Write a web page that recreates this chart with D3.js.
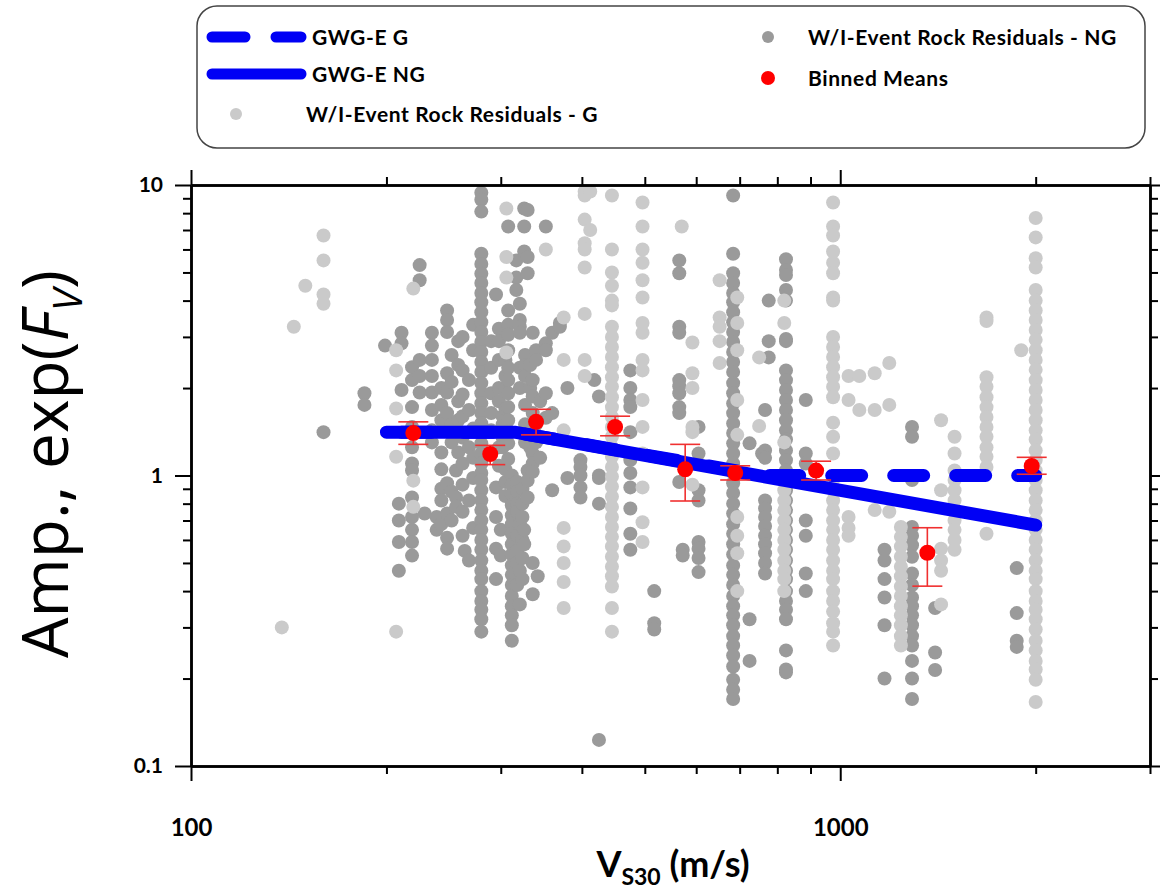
<!DOCTYPE html>
<html>
<head>
<meta charset="utf-8">
<script src="https://cdn.jsdelivr.net/npm/d3@7"></script>
<style>
  body { margin: 0; background: #fff; }
  svg text { font-family: Lato, "Open Sans", sans-serif; }
</style>
</head>
<body>
<svg width="1160" height="891"></svg>
<script>
// ---- data ----
// within-event residuals, non-glaciated sites: [Vs30, amplitudes]
const ngCols = [
  [160, [1.41]],
  [185, [1.92, 1.75]],
  [199, [2.8]],
  [211, [3.1, 2.85, 1.97]],
  [209, [0.80, 0.70, 0.59, 0.47]],
  [219, [2.36, 2.13, 1.72, 1.47, 1.40, 1.25, 1.10, 1.04, 0.84, 0.72, 0.65, 0.59, 0.53]],
  [225, [5.3, 4.7, 2.5, 2.2, 1.93]],
  [229, [0.74]],
  [235, [3.1, 2.8, 2.5, 2.2, 1.93, 1.68, 1.43, 1.30]],
  [239, [0.72, 0.65]],
  [243, [2.0, 1.75, 1.55, 1.2, 1.05, 0.9, 0.82, 0.68]],
  [248, [3.7, 3.43, 3.12, 2.25, 1.93, 1.64, 1.43, 0.94, 0.74, 0.61, 0.56]],
  [252, [2.6, 2.1, 1.5, 1.3, 0.88, 0.7]],
  [256, [1.04, 0.84, 0.78]],
  [258, [2.9, 2.4, 1.8, 1.55, 1.2]],
  [262, [3.0, 2.3, 1.9, 1.6, 1.35, 1.1, 0.93, 0.75, 0.62]],
  [264, [0.55]],
  [268, [2.13, 1.68, 1.25, 0.82, 0.51]],
  [272, [3.3, 2.7, 1.45, 1.15, 0.98, 0.66]],
  [280, [9.4, 8.9, 8.1, 5.8, 5.35, 4.95, 4.6, 4.25, 3.95, 3.65, 3.37, 3.12, 2.88, 2.66, 2.46, 2.27,
         2.08, 1.92, 1.77, 1.64, 1.51, 1.40, 1.29, 1.19, 1.10, 1.02, 0.965, 0.89, 0.82, 0.76, 0.70,
         0.65, 0.60, 0.555, 0.51, 0.47, 0.44, 0.40, 0.37, 0.345, 0.32, 0.29]],
  [290, [2.9, 2.35, 1.92, 1.64, 1.43, 1.19]],
  [295, [4.2, 0.91, 0.72, 0.56, 0.44]],
  [298, [3.2, 2.9, 2.5, 2.0, 1.8, 1.25, 1.08]],
  [300, [0.65, 0.53]],
  [302, [1.5, 1.35, 1.25, 1.6]],
  [305, [2.5, 2.2, 1.95, 1.7, 1.05, 0.95, 0.85]],
  [308, [7.2, 3.7, 3.3, 3.05, 2.7, 2.35, 2.13, 1.92, 1.72, 1.55, 1.42, 1.29, 1.14]],
  [312, [1.0, 0.93, 0.86, 0.79, 0.73, 0.68, 0.63, 0.58, 0.535, 0.49, 0.455, 0.42, 0.385, 0.355, 0.33, 0.305, 0.27]],
  [317, [5.5, 4.8, 4.35]],
  [318, [0.95, 0.88, 0.8, 0.75, 0.62, 0.55, 0.5, 0.42]],
  [321, [3.43, 3.25, 3.1, 3.9, 2.35, 2.0, 0.68, 0.47, 0.36]],
  [324, [0.9, 0.8, 0.72, 0.6, 0.52, 0.44]],
  [326, [8.3, 7.2, 5.9, 0.65, 0.58]],
  [327, [2.6, 2.4, 2.2, 1.75, 1.5, 1.3]],
  [330, [8.2, 5.65, 4.97, 1.04, 0.96, 0.84]],
  [333, [2.4, 2.0, 1.45, 1.25]],
  [336, [3.1, 2.13, 1.87, 1.64, 1.19, 1.10, 1.03, 0.50, 0.39]],
  [340, [2.7, 2.5, 1.5, 1.3]],
  [342, [0.45]],
  [345, [1.8, 1.35, 1.15]],
  [352, [7.2, 2.85, 2.7, 1.92, 1.58]],
  [360, [3.1, 1.64, 0.89]],
  [370, [3.35, 3.25]],
  [380, [2.0, 0.98]],
  [398, [1.13, 1.07, 1.0, 0.91, 0.84]],
  [418, [2.13]],
  [425, [1.87, 1.0, 0.98, 0.80, 0.123]],
  [475, [2.3, 2.0, 1.82, 1.72, 1.41, 1.13, 1.02, 0.91, 0.77, 0.63, 0.555]],
  [517, [0.40, 0.31, 0.295]],
  [565, [5.5, 4.97, 3.25, 3.1, 2.13, 2.03, 1.92, 1.72, 1.64, 0.95]],
  [572, [0.555, 0.53]],
  [605, [1.47, 1.19, 0.89, 0.82, 0.59, 0.56, 0.52, 0.465]],
  [684, [9.2, 5.8, 4.97, 4.6, 4.25, 3.95, 3.65, 3.37, 3.12, 2.88, 2.66, 2.46, 2.27, 2.08, 1.92, 1.77,
         1.64, 1.51, 1.40, 1.29, 1.19, 1.10, 1.02, 0.94, 0.87, 0.80, 0.74, 0.68, 0.63, 0.58, 0.535,
         0.49, 0.455, 0.42, 0.385, 0.355, 0.33, 0.305, 0.28, 0.26, 0.24, 0.22, 0.198, 0.183, 0.17]],
  [725, [1.29, 0.32, 0.23]],
  [758, [1.19]],
  [766, [1.68, 1.22, 1.15, 0.82, 0.77, 0.72, 0.67, 0.62, 0.58, 0.54, 0.50, 0.46]],
  [776, [4.0, 2.55, 2.9]],
  [825, [5.55, 5.1, 4.9, 4.35, 4.0, 2.95, 2.9, 2.3, 2.13, 1.97, 1.82, 1.68, 1.55, 1.43, 1.33, 1.22,
         1.13, 1.04, 0.965, 0.89, 0.82, 0.76, 0.70, 0.65, 0.60, 0.555, 0.51, 0.47, 0.44, 0.40, 0.37,
         0.345, 0.32, 0.25, 0.215, 0.21]],
  [885, [1.82, 1.19, 1.10, 0.70, 0.62, 0.46, 0.40]],
  [1170, [0.555, 0.51, 0.44, 0.38, 0.305, 0.20]],
  [1290, [1.47, 1.36, 0.965, 0.665, 0.62, 0.575, 0.525, 0.46, 0.42, 0.38, 0.355, 0.33, 0.305, 0.28,
          0.26, 0.23, 0.20, 0.17]],
  [1400, [0.35, 0.246, 0.214]],
  [1870, [0.48, 0.336, 0.27, 0.257]]
];

// within-event residuals, glaciated sites
const gCols = [
  [138, [0.30]],
  [144, [3.25]],
  [150, [4.5]],
  [160, [6.7, 5.5, 4.2, 3.9]],
  [207, [2.7, 2.3, 1.7, 1.16, 0.29]],
  [220, [4.4, 0.96, 0.78]],
  [306, [8.3, 5.65, 4.8, 2.65]],
  [352, [6.0]],
  [375, [3.5, 2.5, 1.43, 0.66, 0.57, 0.50, 0.43, 0.35]],
  [404, [9.5, 9.2, 7.6, 6.3, 6.0, 5.2, 3.6, 2.5, 2.2]],
  [412, [9.5, 7.0]],
  [445, [9.2, 6.0, 5.0, 4.5, 4.0, 3.85, 3.25, 3.0, 2.77, 2.56, 2.36, 2.18, 2.02, 1.86, 1.72, 1.59,
         1.47, 1.36, 1.25, 1.16, 1.07, 0.99, 0.915, 0.845, 0.78, 0.72, 0.665, 0.615, 0.57, 0.525,
         0.485, 0.45, 0.415, 0.35, 0.29]],
  [496, [8.7, 7.2, 6.0, 5.4, 4.7, 4.1, 3.35, 3.1, 2.5, 2.3, 1.82, 1.47, 1.19, 0.91, 0.69, 0.59]],
  [570, [7.2]],
  [592, [2.87, 2.25, 2.0, 1.47, 1.41, 0.93]],
  [652, [4.7, 3.5, 3.25, 2.9, 2.44]],
  [694, [4.1, 3.35, 2.7, 1.82, 1.38, 0.72, 0.62, 0.54, 0.40]],
  [750, [2.55, 1.48]],
  [820, [4.0, 3.35, 1.3, 0.89, 0.82, 0.76, 0.70, 0.65, 0.60, 0.555, 0.51, 0.47, 0.44, 0.40]],
  [975, [8.7, 7.2, 6.7, 5.9, 5.4, 4.97, 4.1, 4.0, 3.0, 2.77, 2.56, 2.36, 2.18, 2.02, 1.86, 1.52,
         1.36, 1.19, 0.965, 0.89, 0.82, 0.76, 0.70, 0.65, 0.60, 0.555, 0.51, 0.47, 0.44, 0.40, 0.37,
         0.34, 0.31, 0.29, 0.26]],
  [1030, [2.2, 1.82, 0.72, 0.66, 0.62]],
  [1070, [2.2, 1.68]],
  [1130, [2.25, 1.68, 0.76]],
  [1190, [2.44, 1.75, 0.75]],
  [1240, [0.665, 0.615, 0.57, 0.525, 0.485, 0.45, 0.415, 0.385, 0.355, 0.33, 0.305, 0.28, 0.26]],
  [1430, [1.55, 0.89, 0.56, 0.51, 0.47, 0.36]],
  [1500, [1.36, 1.19, 1.04, 0.965, 0.89, 0.82, 0.76, 0.70, 0.65, 0.60, 0.555]],
  [1680, [3.5, 3.4, 2.18, 2.02, 1.86, 1.72, 1.59, 1.47, 1.36, 1.25, 1.16, 1.07, 0.63]],
  [1900, [2.7]],
  [2000, [7.7, 6.6, 5.6, 5.2, 4.35, 4.0, 3.7, 3.43, 3.17, 2.93, 2.7, 2.5, 2.31, 2.13, 1.97, 1.82,
          1.68, 1.55, 1.43, 1.33, 1.22, 1.13, 1.04, 0.965, 0.89, 0.82, 0.76, 0.70, 0.65, 0.60, 0.555,
          0.51, 0.47, 0.44, 0.40, 0.37, 0.345, 0.32, 0.295, 0.27, 0.25, 0.23, 0.215, 0.198, 0.166]]
];

// binned means with error bars
const binVs30 = [220, 289, 340, 450, 577, 689, 918, 1362, 1972];
const binMean = [1.40, 1.186, 1.53, 1.47, 1.05, 1.02, 1.04, 0.542, 1.078];
const binLow  = [1.28, 1.09, 1.38, 1.37, 0.817, 0.965, 0.965, 0.416, 1.01];
const binHigh = [1.53, 1.27, 1.69, 1.60, 1.28, 1.08, 1.12, 0.661, 1.155];

// GWG-E model curves
const ngLineVs30 = [200, 315, 2000];
const ngLineAmp  = [1.41, 1.41, 0.675];
const gLineVs30  = [200, 315, 760, 2000];
const gLineAmp   = [1.41, 1.41, 1.0, 1.0];

// axis ticks
const xMajor = [100, 1000];
const xMinor = [200, 300, 400, 500, 600, 700, 800, 900, 2000, 3000];
const yMajor = [0.1, 1, 10];
const yMinor = [0.2, 0.3, 0.4, 0.5, 0.6, 0.7, 0.8, 0.9, 2, 3, 4, 5, 6, 7, 8, 9];

// ---- layout ----
const plot = { left: 191, right: 1150, top: 185, bottom: 766 };
const darkGray = '#9a9a9a', lightGray = '#cacaca', blue = '#0000f5', red = '#ff0000';

const svg = d3.select('svg');
const x = d3.scaleLog().domain([100, 3000]).range([plot.left, plot.right]);
const y = d3.scaleLog().domain([0.1, 10]).range([plot.bottom, plot.top]);

const flatten = cols => cols.flatMap(([v, amps]) => amps.map(a => ({ v: v, a: a })));

svg.append('clipPath').attr('id', 'clip')
  .append('rect')
    .attr('x', plot.left).attr('y', plot.top)
    .attr('width', plot.right - plot.left).attr('height', plot.bottom - plot.top);

const g = svg.append('g').attr('clip-path', 'url(#clip)');

// scatter, dark first then light on top
g.append('g').selectAll('circle')
  .data(flatten(ngCols))
  .join('circle')
    .attr('cx', d => x(d.v))
    .attr('cy', d => y(d.a))
    .attr('r', 7)
    .attr('fill', darkGray);

g.append('g').selectAll('circle')
  .data(flatten(gCols))
  .join('circle')
    .attr('cx', d => x(d.v))
    .attr('cy', d => y(d.a))
    .attr('r', 7)
    .attr('fill', lightGray);

// model lines
const line = d3.line().x(d => x(d[0])).y(d => y(d[1]));

g.append('path')
  .attr('d', line(ngLineVs30.map((v, i) => [v, ngLineAmp[i]])))
  .attr('fill', 'none')
  .attr('stroke', blue)
  .attr('stroke-width', 13)
  .attr('stroke-linecap', 'round')
  .attr('stroke-linejoin', 'round');

g.append('path')
  .attr('d', line(gLineVs30.map((v, i) => [v, gLineAmp[i]])))
  .attr('fill', 'none')
  .attr('stroke', blue)
  .attr('stroke-width', 13)
  .attr('stroke-linecap', 'round')
  .attr('stroke-dasharray', '30 32')
  .attr('stroke-dashoffset', 47);

// binned means
const bins = binVs30.map((v, i) => ({ v: v, m: binMean[i], lo: binLow[i], hi: binHigh[i] }));
const eb = g.append('g').attr('stroke', '#f03030').attr('stroke-width', 1.6);
eb.selectAll('.stem').data(bins).join('line')
  .attr('x1', d => x(d.v)).attr('x2', d => x(d.v))
  .attr('y1', d => y(d.lo)).attr('y2', d => y(d.hi));
eb.selectAll('.capHi').data(bins).join('line')
  .attr('x1', d => x(d.v) - 15).attr('x2', d => x(d.v) + 15)
  .attr('y1', d => y(d.hi)).attr('y2', d => y(d.hi));
eb.selectAll('.capLo').data(bins).join('line')
  .attr('x1', d => x(d.v) - 15).attr('x2', d => x(d.v) + 15)
  .attr('y1', d => y(d.lo)).attr('y2', d => y(d.lo));

g.append('g').selectAll('circle')
  .data(bins)
  .join('circle')
    .attr('cx', d => x(d.v))
    .attr('cy', d => y(d.m))
    .attr('r', 8)
    .attr('fill', red);

// ---- axes (ticks outside on all four sides) ----
function styleAxis(sel) {
  sel.selectAll('path.domain').attr('stroke', '#000').attr('stroke-width', 2.5);
  sel.selectAll('.tick line').attr('stroke', '#000').attr('stroke-width', 2);
  sel.selectAll('.tick text')
    .attr('fill', '#000')
    .style('font-weight', 700);
}

const bottomMinor = svg.append('g').attr('transform', `translate(0,${plot.bottom})`)
  .call(d3.axisBottom(x).tickValues(xMinor).tickSize(8).tickSizeOuter(0).tickFormat(''));
const bottomMajor = svg.append('g').attr('transform', `translate(0,${plot.bottom})`)
  .call(d3.axisBottom(x).tickValues(xMajor).tickSize(15).tickSizeOuter(0).tickPadding(38)
    .tickFormat(d3.format('d')));
bottomMajor.selectAll('.tick text').style('font-size', '24px');

const topMinor = svg.append('g').attr('transform', `translate(0,${plot.top})`)
  .call(d3.axisTop(x).tickValues(xMinor).tickSize(8).tickSizeOuter(0).tickFormat(''));
const topMajor = svg.append('g').attr('transform', `translate(0,${plot.top})`)
  .call(d3.axisTop(x).tickValues(xMajor).tickSize(15).tickSizeOuter(0).tickFormat(''));

const leftMinor = svg.append('g').attr('transform', `translate(${plot.left},0)`)
  .call(d3.axisLeft(y).tickValues(yMinor).tickSize(8).tickSizeOuter(0).tickFormat(''));
const leftMajor = svg.append('g').attr('transform', `translate(${plot.left},0)`)
  .call(d3.axisLeft(y).tickValues(yMajor).tickSize(16).tickSizeOuter(0).tickPadding(12)
    .tickFormat(d => d === 0.1 ? '0.1' : String(d)));
leftMajor.selectAll('.tick text').style('font-size', '21px');

const rightMinor = svg.append('g').attr('transform', `translate(${plot.right},0)`)
  .call(d3.axisRight(y).tickValues(yMinor).tickSize(8).tickSizeOuter(0).tickFormat(''));
const rightMajor = svg.append('g').attr('transform', `translate(${plot.right},0)`)
  .call(d3.axisRight(y).tickValues(yMajor).tickSize(15).tickSizeOuter(0).tickFormat(''));

[bottomMinor, bottomMajor, topMinor, topMajor, leftMinor, leftMajor, rightMinor, rightMajor]
  .forEach(styleAxis);

// x axis title
const xTitle = svg.append('text')
  .attr('x', 673).attr('y', 877)
  .attr('text-anchor', 'middle')
  .style('font-size', '36px').style('font-weight', 700);
xTitle.append('tspan').text('V');
xTitle.append('tspan').attr('dy', 8).style('font-size', '23px').text('S30');
xTitle.append('tspan').attr('dy', -8).text(' (m/s)');

// y axis title
const yTitle = svg.append('text')
  .attr('transform', 'translate(68,464) rotate(-90)')
  .attr('text-anchor', 'middle')
  .style('font-family', '"Open Sans", sans-serif')
  .style('font-size', '64px');
yTitle.append('tspan').text('Amp., exp(');
yTitle.append('tspan').style('font-style', 'italic').text('F');
yTitle.append('tspan').attr('dy', 14).style('font-style', 'italic').style('font-size', '40px').text('V');
yTitle.append('tspan').attr('dy', -14).text(')');

// ---- legend ----
const legend = svg.append('g');
legend.append('rect')
  .attr('x', 197).attr('y', 6)
  .attr('width', 948).attr('height', 142)
  .attr('rx', 20)
  .attr('fill', '#fff')
  .attr('stroke', '#444')
  .attr('stroke-width', 1.5);

legend.append('line')
  .attr('x1', 212).attr('x2', 301).attr('y1', 37).attr('y2', 37)
  .attr('stroke', blue).attr('stroke-width', 11).attr('stroke-linecap', 'round')
  .attr('stroke-dasharray', '33 31');
legend.append('line')
  .attr('x1', 212).attr('x2', 301).attr('y1', 74).attr('y2', 74)
  .attr('stroke', blue).attr('stroke-width', 11).attr('stroke-linecap', 'round');
legend.append('circle').attr('cx', 236).attr('cy', 114).attr('r', 6).attr('fill', lightGray);
legend.append('circle').attr('cx', 768).attr('cy', 37).attr('r', 6).attr('fill', darkGray);
legend.append('circle').attr('cx', 768).attr('cy', 78).attr('r', 7).attr('fill', red);

const legendItems = [
  { x: 312, y: 37, text: 'GWG-E G' },
  { x: 312, y: 74, text: 'GWG-E NG' },
  { x: 306, y: 114, text: 'W/I-Event Rock Residuals - G' },
  { x: 808, y: 37, text: 'W/I-Event Rock Residuals - NG' },
  { x: 808, y: 78, text: 'Binned Means' }
];
legend.selectAll('.lbl')
  .data(legendItems)
  .join('text')
    .attr('x', d => d.x)
    .attr('y', d => d.y)
    .attr('dy', '0.36em')
    .style('font-size', '21px')
    .style('letter-spacing', '0.6px')
    .style('font-weight', 700)
    .text(d => d.text);
</script>
</body>
</html>
